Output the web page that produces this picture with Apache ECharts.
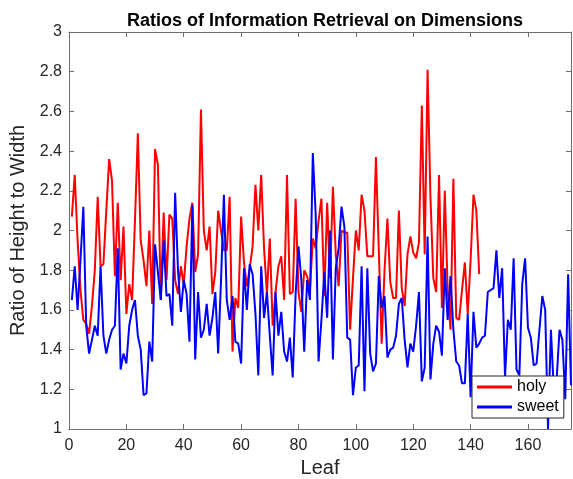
<!DOCTYPE html>
<html>
<head>
<meta charset="utf-8">
<script src="https://cdn.jsdelivr.net/npm/echarts@6/dist/echarts.min.js"></script>
<style>
  html, body { margin: 0; padding: 0; background: #fff; }
  #chart { width: 573px; height: 479px; }
</style>
</head>
<body>
<div id="chart"></div>
<script>
const holy = [
  2.07, 2.28, 1.95, 1.70, 1.55, 1.53, 1.48, 1.62, 1.80, 2.17,
  1.82, 1.83, 2.10, 2.36, 2.25, 1.77, 2.14, 1.75, 2.02, 1.58,
  1.73, 1.65, 2.05, 2.49, 1.95, 1.85, 1.72, 2.00, 1.63, 2.41,
  2.33, 1.65, 2.09, 1.75, 2.08, 2.06, 1.75, 1.68, 1.82, 1.73,
  1.92, 2.06, 2.14, 1.79, 1.88, 2.61, 2.00, 1.90, 2.02, 1.68,
  1.79, 2.10, 2.00, 1.90, 1.90, 2.17, 1.39, 1.66, 1.61, 2.07,
  1.84, 1.72, 1.81, 1.92, 2.23, 2.00, 2.28, 1.91, 1.68, 1.96,
  1.52, 1.69, 1.82, 1.87, 1.65, 2.28, 1.68, 1.69, 2.16, 1.69,
  1.59, 1.80, 1.77, 1.70, 1.96, 1.91, 2.05, 2.16, 1.67, 2.14,
  1.76, 2.22, 1.88, 1.72, 2.00, 1.99, 1.99, 1.50, 1.76, 2.00,
  1.90, 2.18, 2.10, 1.87, 1.87, 1.87, 2.37, 1.90, 1.43, 1.80,
  2.06, 1.74, 1.66, 1.66, 2.10, 1.71, 1.62, 1.88, 1.97, 1.89,
  1.86, 1.94, 2.63, 1.88, 2.81, 2.17, 1.76, 1.69, 2.28, 1.61,
  2.20, 1.70, 1.50, 2.26, 1.56, 1.55, 1.70, 1.84, 1.58, 1.85,
  2.18, 2.10, 1.78
];
const sweet = [
  1.65, 1.82, 1.60, 1.85, 2.12, 1.52, 1.38, 1.45, 1.52, 1.47,
  1.82, 1.47, 1.38, 1.45, 1.50, 1.52, 1.91, 1.30, 1.38, 1.33,
  1.52, 1.60, 1.65, 1.47, 1.40, 1.17, 1.18, 1.44, 1.34, 1.93,
  1.79, 1.65, 1.95, 1.67, 1.68, 1.52, 2.19, 1.80, 1.59, 1.75,
  1.68, 1.44, 2.13, 1.35, 1.69, 1.46, 1.50, 1.63, 1.47, 1.56,
  1.69, 1.38, 1.75, 2.18, 1.65, 1.55, 1.67, 1.44, 1.43, 1.33,
  1.81, 1.60, 1.83, 1.78, 1.58, 1.27, 1.82, 1.56, 1.69, 1.47,
  1.27, 1.69, 1.47, 1.59, 1.39, 1.34, 1.46, 1.26, 1.68, 1.92,
  1.75, 1.39, 1.75, 1.65, 2.39, 2.08, 1.34, 1.55, 1.79, 1.56,
  2.00, 1.35, 1.81, 1.91, 2.12, 2.02, 1.46, 1.45, 1.17, 1.31,
  1.32, 1.82, 1.19, 1.81, 1.38, 1.29, 1.33, 1.77, 1.61, 1.67,
  1.36, 1.40, 1.41, 1.47, 1.63, 1.66, 1.45, 1.31, 1.43, 1.39,
  1.52, 1.69, 1.24, 1.31, 1.97, 1.25, 1.43, 1.52, 1.49, 1.37,
  1.81, 1.55, 1.77, 1.50, 1.34, 1.32, 1.23, 1.23, 1.58, 1.16,
  1.59, 1.41, 1.43, 1.46, 1.47, 1.69, 1.70, 1.71, 1.90, 1.66,
  1.81, 1.26, 1.55, 1.50, 1.86, 1.30, 1.27, 1.73, 1.86, 1.51,
  1.46, 1.32, 1.33, 1.50, 1.67, 1.60, 1.00, 1.50, 1.20, 1.25,
  1.50, 1.45, 1.15, 1.78, 1.22
];

const chart = echarts.init(document.getElementById("chart"));
const font = "'Liberation Sans', Arial, Helvetica, sans-serif";
const axisColor = "#262626";
const boxColor = "#6e6e6e";

// leaf number = position in the array + 1
const toPoints = (arr) => arr.map((v, i) => [i + 1, v]);

const xBase = {
  type: "value",
  min: 0,
  max: 175,
  interval: 20,
  splitLine: { show: false },
  axisLine: { show: true, onZero: false, lineStyle: { color: boxColor, width: 1 } },
  axisTick: { show: true, inside: true, length: 5, lineStyle: { color: boxColor } },
};
const yBase = {
  type: "value",
  min: 1,
  max: 3,
  interval: 0.2,
  splitLine: { show: false },
  axisLine: { show: true, onZero: false, lineStyle: { color: boxColor, width: 1 } },
  axisTick: { show: true, inside: true, length: 5, lineStyle: { color: boxColor } },
};

const option = {
  animation: false,
  backgroundColor: "#fff",
  title: {
    text: "Ratios of Information Retrieval on Dimensions",
    left: 320,
    textAlign: "center",
    top: 7,
    textStyle: { fontFamily: font, fontSize: 18, fontWeight: "bold", color: "#000" },
  },
  grid: { left: 69, top: 32, width: 502, height: 397, containLabel: false, outerBoundsMode: "none" },
  legend: {
    left: 472,
    top: 376,
    orient: "vertical",
    icon: "rect",
    itemWidth: 35,
    itemHeight: 3,
    itemGap: 4,
    padding: [3, 5, 3, 5],
    backgroundColor: "#fff",
    borderColor: "#262626",
    borderWidth: 1,
    textStyle: { fontFamily: font, fontSize: 16, color: "#000" },
    data: ["holy", "sweet"],
  },
  xAxis: [
    Object.assign({}, xBase, {
      position: "bottom",
      name: "Leaf",
      nameLocation: "middle",
      nameGap: 29,
      nameTextStyle: { fontFamily: font, fontSize: 20, color: axisColor },
      axisLabel: { fontFamily: font, fontSize: 16, color: axisColor, margin: 9, showMaxLabel: false },
    }),
    Object.assign({}, xBase, { position: "top", axisLabel: { show: false } }),
  ],
  yAxis: [
    Object.assign({}, yBase, {
      position: "left",
      name: "Ratio of Height to Width",
      nameLocation: "middle",
      nameGap: 34,
      nameTextStyle: { fontFamily: font, fontSize: 20, color: axisColor },
      axisLabel: {
        fontFamily: font,
        fontSize: 16,
        color: axisColor,
        margin: 7,
        formatter: (v) => String(+v.toFixed(1)),
      },
    }),
    Object.assign({}, yBase, { position: "right", axisLabel: { show: false } }),
  ],
  series: [
    {
      name: "holy",
      type: "line",
      data: toPoints(holy),
      showSymbol: false,
      symbol: "none",
      color: "#ff0000",
      lineStyle: { color: "#ff0000", width: 2 },
      clip: true,
    },
    {
      name: "sweet",
      type: "line",
      data: toPoints(sweet),
      showSymbol: false,
      symbol: "none",
      color: "#0000ff",
      lineStyle: { color: "#0000ff", width: 2 },
      clip: true,
    },
  ],
};

chart.setOption(option);
window.onresize = function () {
  chart.resize();
};
</script>
</body>
</html>
